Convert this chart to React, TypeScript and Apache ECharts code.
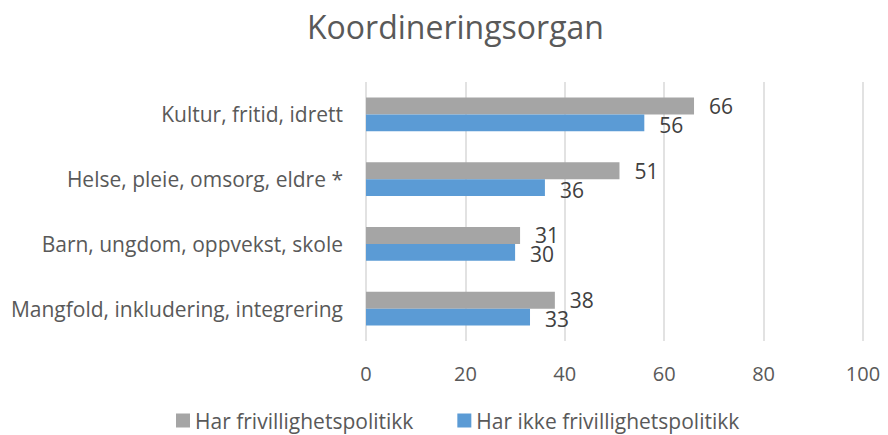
import React, { useEffect, useRef } from "react";
import * as echarts from "echarts";

const categories = [
  "Kultur, fritid, idrett",
  "Helse, pleie, omsorg, eldre *",
  "Barn, ungdom, oppvekst, skole",
  "Mangfold, inkludering, integrering",
];
const seriesNames = ["Har frivillighetspolitikk", "Har ikke frivillighetspolitikk"];
const harPolitikk = [66, 51, 31, 38];
const harIkkePolitikk = [56, 36, 30, 33];
const xTicks = [0, 20, 40, 60, 80, 100];

const FONT = "'Open Sans', sans-serif";

export default function App() {
  const ref = useRef<HTMLDivElement>(null);
  useEffect(() => {
    if (!ref.current) return;
    const chart = echarts.init(ref.current, undefined, { renderer: "svg" });
    chart.setOption({
      animation: false,
      backgroundColor: "#ffffff",
      textStyle: { fontFamily: FONT },
      title: {
        text: "Koordineringsorgan",
        left: 302,
        top: 5,
        textStyle: { fontFamily: FONT, fontSize: 32, fontWeight: "normal", color: "#595959" },
      },
      legend: {
        top: 405,
        left: 171,
        icon: "rect",
        itemWidth: 14,
        itemHeight: 14,
        itemGap: 44,
        data: seriesNames,
        textStyle: { fontFamily: FONT, fontSize: 21, color: "#595959" },
      },
      grid: { left: 366, right: 25, top: 82, bottom: 94 },
      xAxis: {
        type: "value",
        min: xTicks[0],
        max: xTicks[xTicks.length - 1],
        interval: 20,
        axisLine: { show: false },
        axisTick: { show: false },
        axisLabel: { fontFamily: FONT, fontSize: 20, color: "#595959", margin: 22 },
        splitLine: { lineStyle: { color: "#d9d9d9", width: 1.5 } },
      },
      yAxis: {
        type: "category",
        inverse: true,
        data: categories,
        axisLine: { show: false },
        axisTick: { show: false },
        axisLabel: { fontFamily: FONT, fontSize: 21, color: "#595959", margin: 23 },
      },
      series: [
        {
          name: seriesNames[0],
          type: "bar",
          data: harPolitikk,
          barGap: "0%",
          barCategoryGap: "48%",
          itemStyle: { color: "#a5a5a5" },
          label: {
            show: true,
            position: "right",
            distance: 15,
            fontFamily: FONT,
            fontSize: 21,
            color: "#404040",
          },
        },
        {
          name: seriesNames[1],
          type: "bar",
          data: harIkkePolitikk,
          barGap: "0%",
          barCategoryGap: "48%",
          itemStyle: { color: "#5b9bd5" },
          label: {
            show: true,
            position: "right",
            distance: 15,
            fontFamily: FONT,
            fontSize: 21,
            color: "#404040",
            offset: [0, 2],
          },
        },
      ],
    });
    return () => chart.dispose();
  }, []);
  return (
    <div
      ref={ref}
      style={{ position: "absolute", left: 0, top: 0, width: 888, height: 435 }}
    />
  );
}
